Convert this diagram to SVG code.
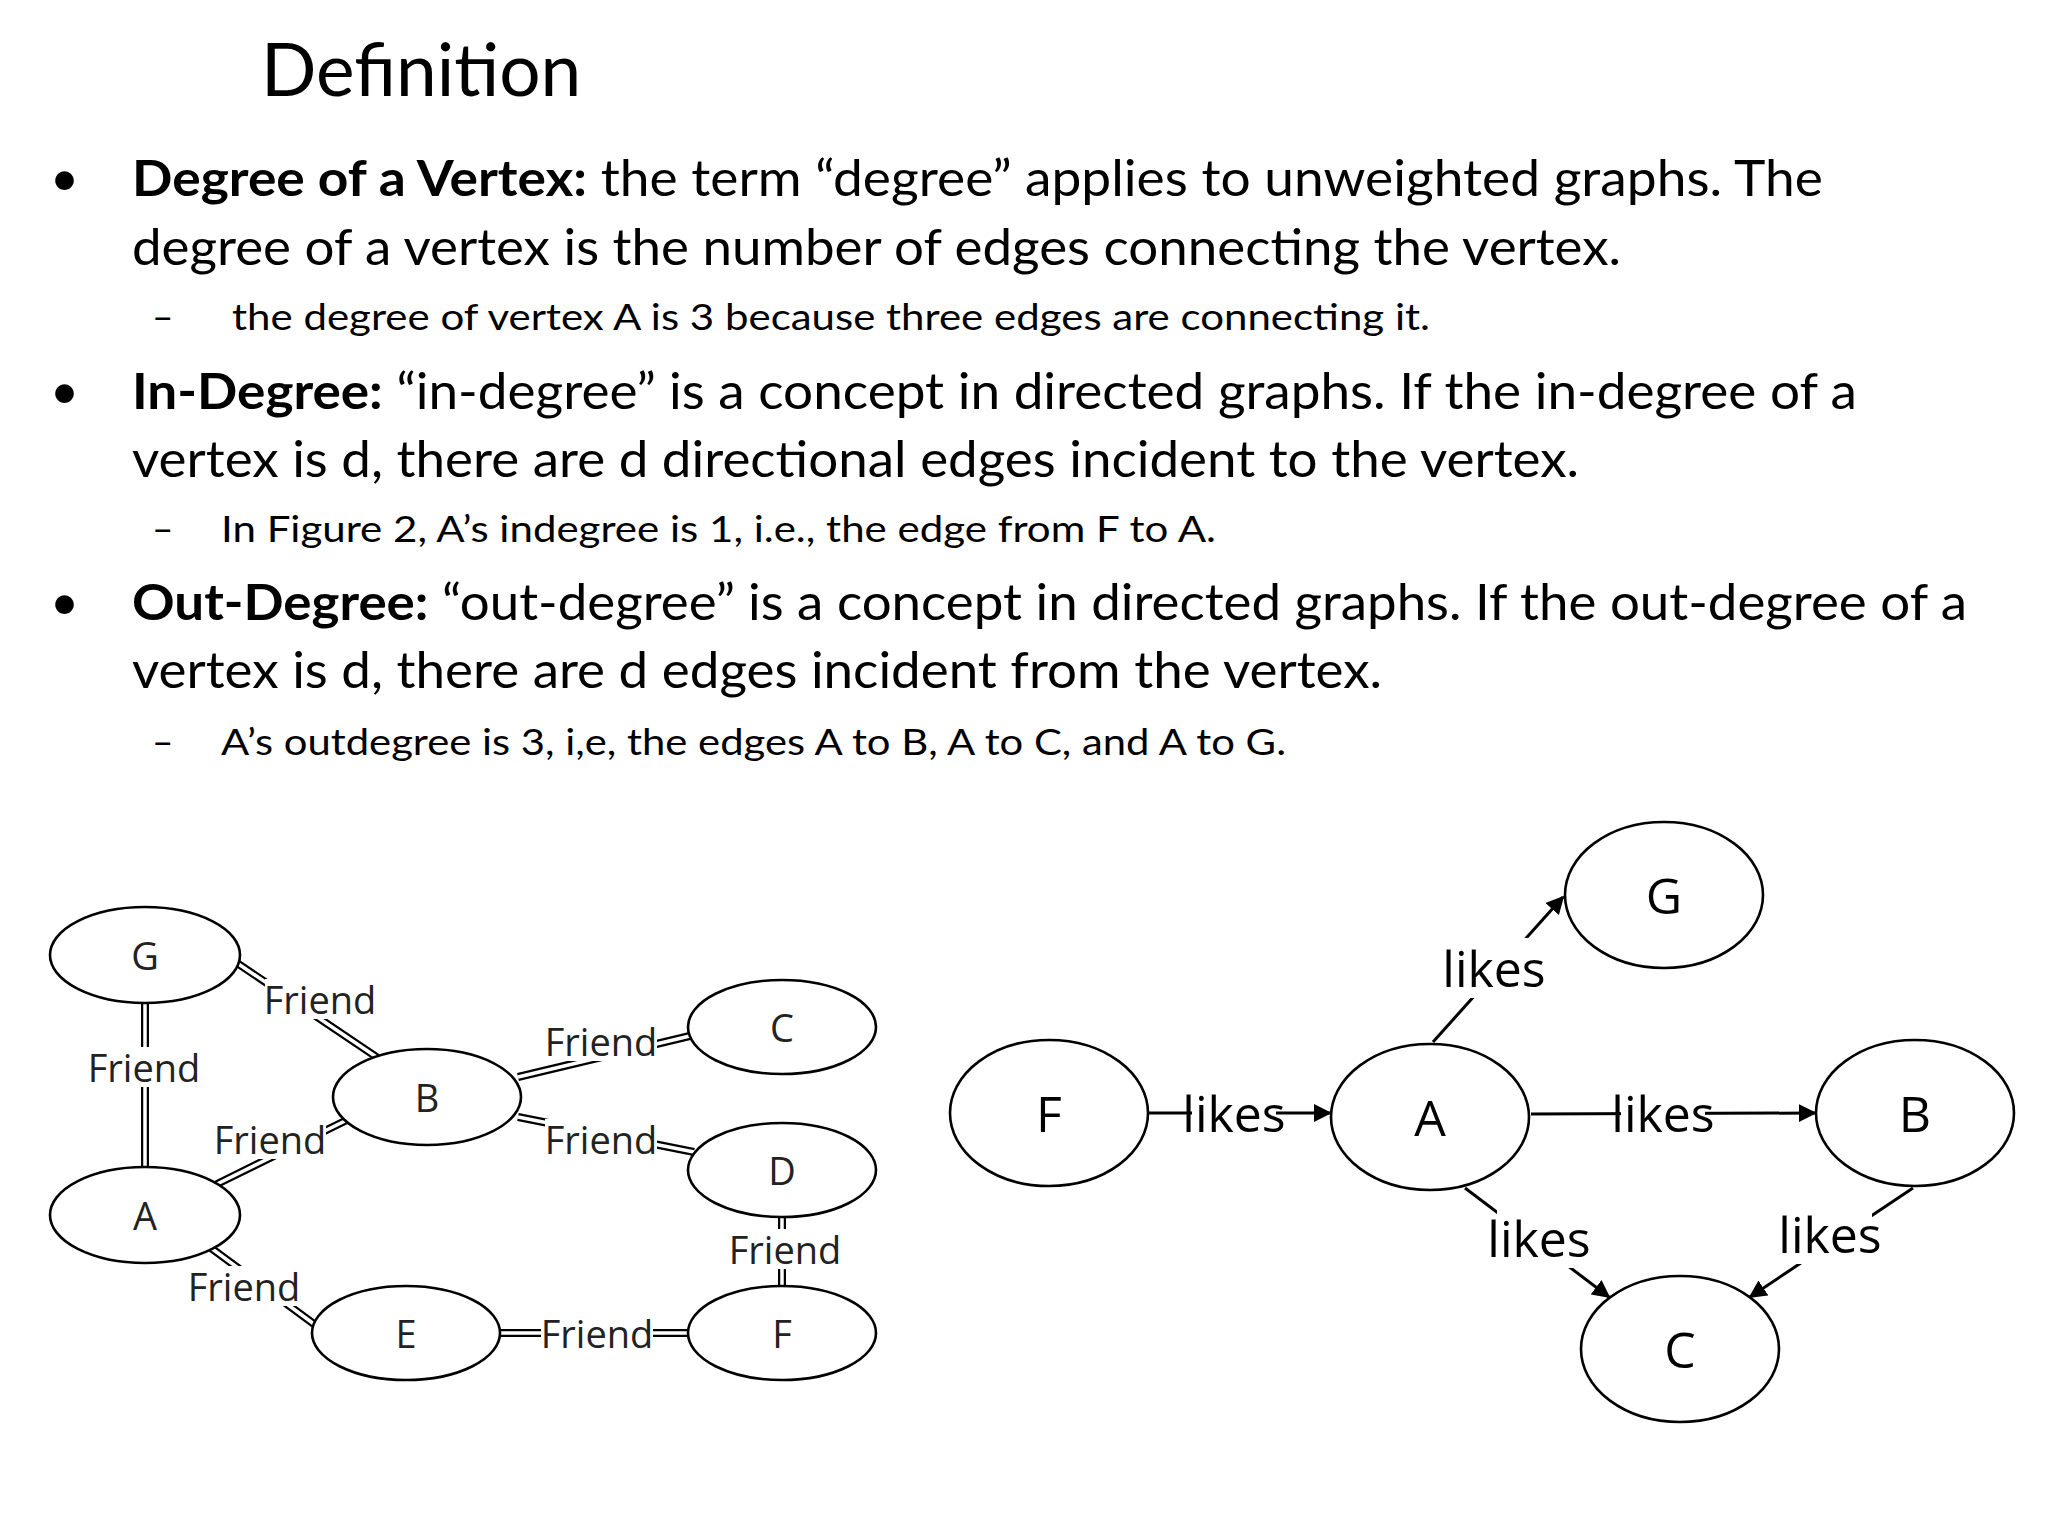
<svg xmlns="http://www.w3.org/2000/svg" width="2048" height="1536" viewBox="0 0 2048 1536">
<defs>
<style>
.t{font-family:Lato,"Open Sans",sans-serif;fill:#000}
.m{font-size:50px}
.s{font-size:37px}
.b{font-weight:bold}
.n{fill:#fff;stroke:#000;stroke-width:2.6}
.lbl{font-family:"Open Sans",sans-serif;font-size:38px;text-anchor:middle;dominant-baseline:central;fill:#222}
.lk{font-family:"Open Sans",sans-serif;font-size:50px;text-anchor:middle;dominant-baseline:central}
.dk{stroke:#000;stroke-width:8;fill:none}
.dw{stroke:#fff;stroke-width:3.5;fill:none}
.ar{stroke:#000;stroke-width:3;fill:none;marker-end:url(#ah)}
.bg{fill:#fff}
</style>
<marker id="ah" viewBox="0 0 10 10" refX="9" refY="5" markerWidth="6" markerHeight="6" orient="auto" markerUnits="strokeWidth"><path d="M0,0 L10,5 L0,10 z" fill="#000"/></marker>
</defs>
<rect width="2048" height="1536" fill="#fff"/>
<g id="text">
<text class="t" x="261" y="96" font-size="73">Definition</text>
<text class="t m" x="50" y="196">•</text>
<text class="t m" x="132" y="196" textLength="1691" lengthAdjust="spacingAndGlyphs"><tspan class="b">Degree of a Vertex:</tspan> the term “degree” applies to unweighted graphs. The</text>
<text class="t m" x="132" y="265" textLength="1489" lengthAdjust="spacingAndGlyphs">degree of a vertex is the number of edges connecting the vertex.</text>
<text class="t s" x="152" y="330">–</text>
<text class="t s" x="232" y="330" textLength="1198" lengthAdjust="spacingAndGlyphs">the degree of vertex A is 3 because three edges are connecting it.</text>
<text class="t m" x="50" y="409">•</text>
<text class="t m" x="132" y="409" textLength="1725" lengthAdjust="spacingAndGlyphs"><tspan class="b">In-Degree:</tspan> “in-degree” is a concept in directed graphs. If the in-degree of a</text>
<text class="t m" x="132" y="477" textLength="1447" lengthAdjust="spacingAndGlyphs">vertex is d, there are d directional edges incident to the vertex.</text>
<text class="t s" x="152" y="542">–</text>
<text class="t s" x="221" y="542" textLength="995" lengthAdjust="spacingAndGlyphs">In Figure 2, A’s indegree is 1, i.e., the edge from F to A.</text>
<text class="t m" x="50" y="620">•</text>
<text class="t m" x="132" y="620" textLength="1835" lengthAdjust="spacingAndGlyphs"><tspan class="b">Out-Degree:</tspan> “out-degree” is a concept in directed graphs. If the out-degree of a</text>
<text class="t m" x="132" y="688" textLength="1250" lengthAdjust="spacingAndGlyphs">vertex is d, there are d edges incident from the vertex.</text>
<text class="t s" x="152" y="755">–</text>
<text class="t s" x="221" y="755" textLength="1065" lengthAdjust="spacingAndGlyphs">A’s outdegree is 3, i,e, the edges A to B, A to C, and A to G.</text>
</g>
<g id="connectors">
<g id="friend-edges">
<path class="dk" d="M237,963 L378,1058 M145,1003 L145,1167 M211,1187 L351,1118 M518,1077 L694,1035 M518,1117 L694,1152 M782,1218 L782,1285 M211,1248 L318,1327 M500,1333 L688,1333"/>
<path class="dw" d="M237,963 L378,1058 M145,1003 L145,1167 M211,1187 L351,1118 M518,1077 L694,1035 M518,1117 L694,1152 M782,1218 L782,1285 M211,1248 L318,1327 M500,1333 L688,1333"/>
</g>
<g id="likes-edges">
<path class="ar" d="M1149,1113 L1330,1113"/>
<path class="ar" d="M1531,1114 L1815,1113"/>
<path class="ar" d="M1433,1042 L1563,897"/>
<path class="ar" d="M1465,1188 L1609,1297"/>
<path class="ar" d="M1913,1188 L1750,1297"/>
</g>
</g>
<g id="left-graph">
<g id="nG"><ellipse class="n" cx="145" cy="955" rx="95" ry="48"/><text class="lbl" x="145" y="955">G</text></g>
<g id="nB"><ellipse class="n" cx="427" cy="1097" rx="94" ry="48"/><text class="lbl" x="427" y="1097">B</text></g>
<g id="nC"><ellipse class="n" cx="782" cy="1027" rx="94" ry="47"/><text class="lbl" x="782" y="1027">C</text></g>
<g id="nD"><ellipse class="n" cx="782" cy="1170" rx="94" ry="47"/><text class="lbl" x="782" y="1170">D</text></g>
<g id="nA"><ellipse class="n" cx="145" cy="1215" rx="95" ry="48"/><text class="lbl" x="145" y="1215">A</text></g>
<g id="nE"><ellipse class="n" cx="406" cy="1333" rx="94" ry="47"/><text class="lbl" x="406" y="1333">E</text></g>
<g id="nF"><ellipse class="n" cx="782" cy="1333" rx="94" ry="47"/><text class="lbl" x="782" y="1333">F</text></g>
<g id="friend-labels">
<rect class="bg" x="265" y="979" width="112" height="40"/><text class="lbl" x="320" y="999">Friend</text>
<rect class="bg" x="88" y="1047" width="112" height="40"/><text class="lbl" x="144" y="1067">Friend</text>
<rect class="bg" x="214" y="1119" width="112" height="40"/><text class="lbl" x="270" y="1139">Friend</text>
<rect class="bg" x="545" y="1021" width="112" height="40"/><text class="lbl" x="601" y="1041">Friend</text>
<rect class="bg" x="545" y="1119" width="112" height="40"/><text class="lbl" x="601" y="1139">Friend</text>
<rect class="bg" x="729" y="1229" width="112" height="40"/><text class="lbl" x="785" y="1249">Friend</text>
<rect class="bg" x="188" y="1266" width="112" height="40"/><text class="lbl" x="244" y="1286">Friend</text>
<rect class="bg" x="541" y="1313" width="112" height="40"/><text class="lbl" x="597" y="1333">Friend</text>
</g>
</g>
<g id="right-graph">
<g id="rG"><ellipse class="n" cx="1664" cy="895" rx="99" ry="73"/><text class="lk" x="1664" y="895">G</text></g>
<g id="rF"><ellipse class="n" cx="1049" cy="1113" rx="99" ry="73"/><text class="lk" x="1049" y="1113">F</text></g>
<g id="rA"><ellipse class="n" cx="1430" cy="1117" rx="99" ry="73"/><text class="lk" x="1430" y="1117">A</text></g>
<g id="rB"><ellipse class="n" cx="1915" cy="1113" rx="99" ry="73"/><text class="lk" x="1915" y="1113">B</text></g>
<g id="rC"><ellipse class="n" cx="1680" cy="1349" rx="99" ry="73"/><text class="lk" x="1680" y="1349">C</text></g>
<g id="likes-labels">
<rect class="bg" x="1452" y="938" width="84" height="60"/><text class="lk" x="1494" y="968">likes</text>
<rect class="bg" x="1192" y="1083" width="84" height="60"/><text class="lk" x="1234" y="1113">likes</text>
<rect class="bg" x="1621" y="1083" width="84" height="60"/><text class="lk" x="1663" y="1113">likes</text>
<rect class="bg" x="1497" y="1208" width="84" height="60"/><text class="lk" x="1539" y="1238">likes</text>
<rect class="bg" x="1788" y="1204" width="84" height="60"/><text class="lk" x="1830" y="1234">likes</text>
</g>
</g>
</svg>
